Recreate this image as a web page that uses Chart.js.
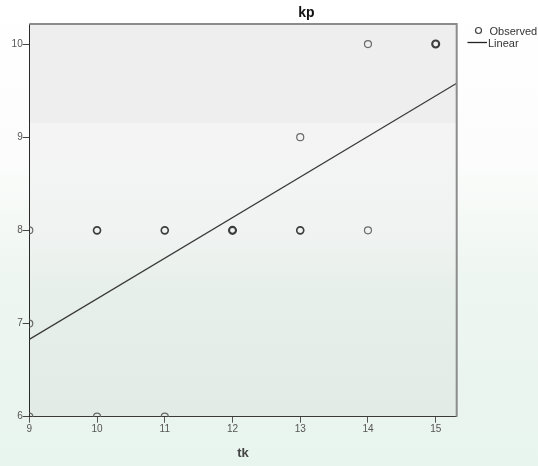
<!DOCTYPE html>
<html>
<head>
<meta charset="utf-8">
<script src="https://cdn.jsdelivr.net/npm/chart.js@4/dist/chart.umd.min.js"></script>
<style>
  html, body { margin: 0; padding: 0; background: #ffffff; }
  #wrap { width: 538px; height: 466px; }
</style>
</head>
<body>
<div id="wrap"><canvas id="c" width="538" height="466"></canvas></div>
<script>
// Observed cases: tk (x) against kp (y); cases = how many respondents share the point
const tk    = [9, 9, 9, 10, 10, 11, 11, 12, 13, 13, 14, 14, 15];
const kp    = [8, 7, 6, 8,  6,  8,  6,  8,  9,  8,  10, 8,  10];
const cases = [1, 1, 1, 2,  1,  2,  1,  3,  1,  2,  1,  1,  3];

// Linear fit evaluated at the two ends of the tk axis
const fitTk = [9, 15.31];
const fitKp = [6.83, 9.58];

// Axis tick values
const tkTicks = [9, 10, 11, 12, 13, 14, 15];
const kpTicks = [6, 7, 8, 9, 10];

const FONT = '"Liberation Sans", Arial, sans-serif';

const observed = tk.map((x, i) => ({ x: x, y: kp[i] }));
const fitLine = fitTk.map((x, i) => ({ x: x, y: fitKp[i] }));

// Page and plot-area shading
const backdrop = {
  id: 'backdrop',
  beforeDraw(chart) {
    const { ctx, chartArea: a, width, height } = chart;
    ctx.save();
    const g = ctx.createLinearGradient(0, 0, 0, height);
    g.addColorStop(0, '#ffffff');
    g.addColorStop(0.35, '#fbfcfb');
    g.addColorStop(0.6, '#eef6f1');
    g.addColorStop(1, '#e8f4ee');
    ctx.fillStyle = g;
    ctx.fillRect(0, 0, width, height);

    const yBand = chart.scales.y.getPixelForValue(9.15);
    ctx.fillStyle = '#eeeeee';
    ctx.fillRect(a.left, a.top, a.right - a.left, yBand - a.top);
    const g2 = ctx.createLinearGradient(0, yBand, 0, a.bottom);
    g2.addColorStop(0, '#f4f4f4');
    g2.addColorStop(0.35, '#f1f3f2');
    g2.addColorStop(0.6, '#e6efea');
    g2.addColorStop(1, '#e2ebe6');
    ctx.fillStyle = g2;
    ctx.fillRect(a.left, yBand, a.right - a.left, a.bottom - yBand);
    ctx.restore();
  }
};

// Frame, titles and legend
const decor = {
  id: 'decor',
  afterDraw(chart) {
    const { ctx, chartArea: a } = chart;
    ctx.save();
    // top and right frame
    ctx.strokeStyle = '#8c8c8c';
    ctx.lineWidth = 2;
    ctx.beginPath();
    ctx.moveTo(a.left, a.top);
    ctx.lineTo(a.right, a.top);
    ctx.lineTo(a.right, a.bottom);
    ctx.stroke();

    // chart title
    ctx.fillStyle = '#111111';
    ctx.font = 'bold 14px ' + FONT;
    ctx.textAlign = 'center';
    ctx.textBaseline = 'alphabetic';
    ctx.fillText('kp', 306.5, 17.3);

    // x axis title
    ctx.fillStyle = '#444444';
    ctx.font = 'bold 13px ' + FONT;
    ctx.fillText('tk', 243, 456.7);

    // legend
    ctx.textAlign = 'left';
    ctx.textBaseline = 'middle';
    ctx.font = '11px ' + FONT;
    ctx.strokeStyle = '#444444';
    ctx.lineWidth = 1.2;
    ctx.beginPath();
    ctx.arc(478.5, 30.5, 3, 0, Math.PI * 2);
    ctx.stroke();
    ctx.fillStyle = '#333333';
    ctx.fillText('Observed', 489.5, 31.5);

    ctx.strokeStyle = '#222222';
    ctx.lineWidth = 1.3;
    ctx.beginPath();
    ctx.moveTo(467.5, 42.5);
    ctx.lineTo(487, 42.5);
    ctx.stroke();
    ctx.fillText('Linear', 488, 43.5);
    ctx.restore();
  }
};

new Chart(document.getElementById('c'), {
  type: 'scatter',
  data: {
    datasets: [
      {
        label: 'Observed',
        data: observed,
        pointRadius: 3.5,
        pointHoverRadius: 3.5,
        pointBackgroundColor: 'rgba(0,0,0,0)',
        pointBorderColor: cases.map(n => n > 1 ? '#3c3c3c' : '#6a6a6a'),
        pointBorderWidth: cases.map(n => 1.2 + 0.45 * (n - 1)),
        clip: 0,
        order: 1
      },
      {
        label: 'Linear',
        type: 'line',
        data: fitLine,
        showLine: true,
        borderColor: '#3a3a3a',
        borderWidth: 1.2,
        pointRadius: 0,
        clip: 0,
        order: 2
      }
    ]
  },
  options: {
    responsive: false,
    animation: false,
    devicePixelRatio: 1,
    events: [],
    layout: { padding: { left: 0, top: 24, right: 81.3, bottom: 0 } },
    plugins: {
      legend: { display: false },
      title: { display: false },
      tooltip: { enabled: false }
    },
    scales: {
      x: {
        type: 'linear',
        min: 9,
        max: 15.31,
        afterBuildTicks(s) { s.ticks = tkTicks.map(v => ({ value: v })); },
        afterFit(s) { s.height = 49.3; },
        grid: { drawOnChartArea: false, drawTicks: true, tickLength: 6, color: '#555555', lineWidth: 1 },
        border: { display: true, color: '#3a3a3a', width: 1 },
        ticks: {
          autoSkip: false,
          maxRotation: 0,
          padding: 1,
          color: '#555555',
          font: { family: FONT, size: 10 },
          callback: v => String(v)
        }
      },
      y: {
        type: 'linear',
        min: 6,
        max: 10.215,
        afterBuildTicks(s) { s.ticks = kpTicks.map(v => ({ value: v })); },
        afterFit(s) { s.width = 29.3; },
        grid: { drawOnChartArea: false, drawTicks: true, tickLength: 6.6, color: '#444444', lineWidth: 1 },
        border: { display: true, color: '#2a2a2a', width: 1 },
        ticks: {
          autoSkip: false,
          padding: 0,
          color: '#555555',
          font: { family: FONT, size: 10 },
          callback: v => String(v)
        }
      }
    }
  },
  plugins: [backdrop, decor]
});
</script>
</body>
</html>
